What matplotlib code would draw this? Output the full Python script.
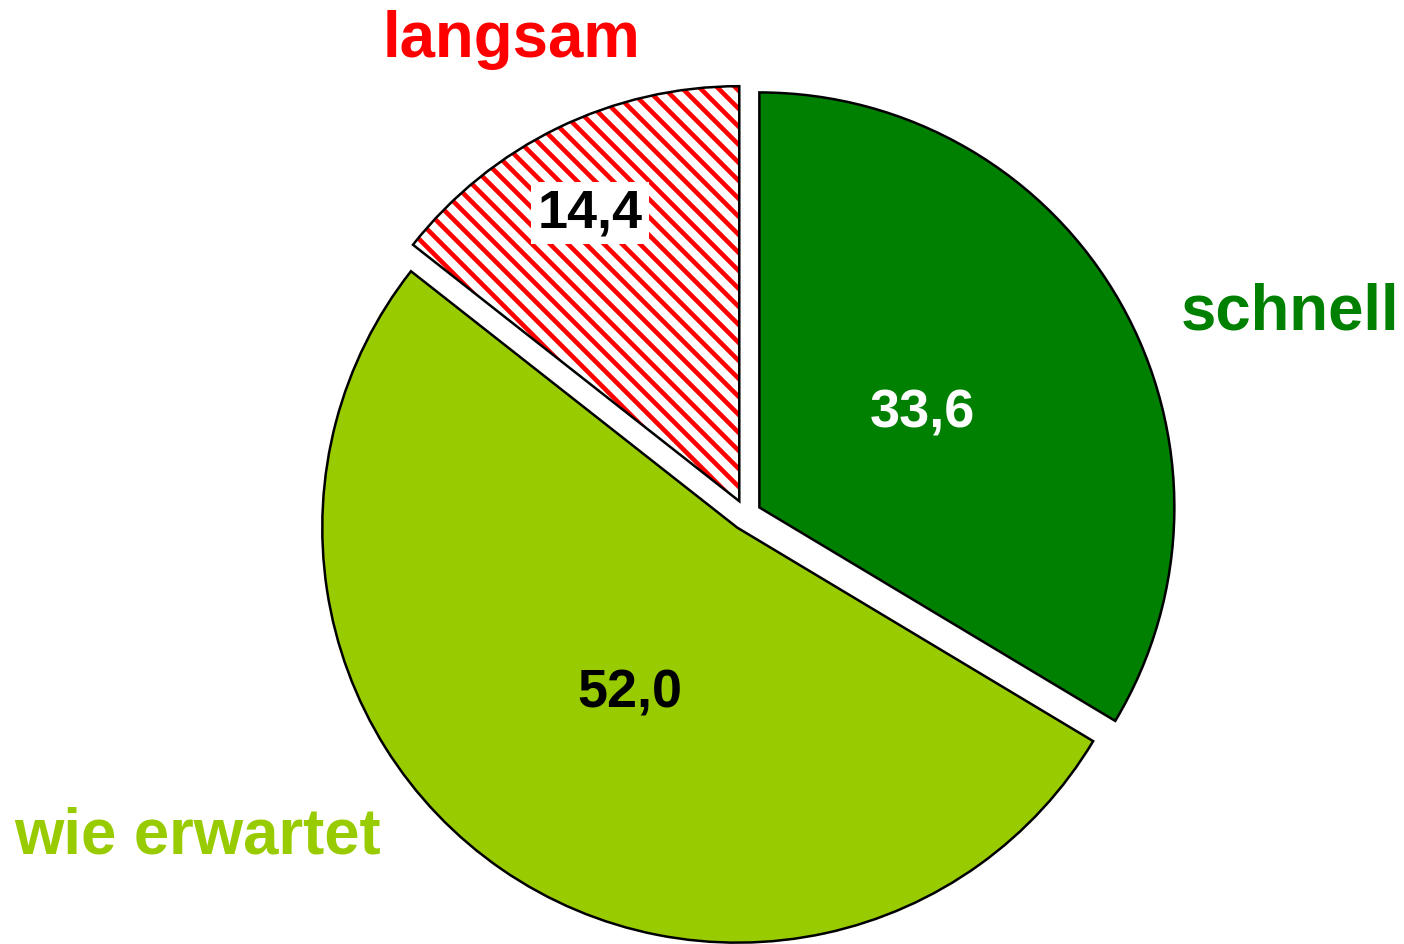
import matplotlib
matplotlib.use("Agg")
import matplotlib.pyplot as plt
from matplotlib.patches import Wedge

DPI = 108          # Schraffur-Abstand haengt an dpi (12 Linien pro Zoll -> 9 px)
PT = 72 / DPI      # Pixel -> Punkt

plt.rcParams['font.family'] = ['Liberation Sans', 'DejaVu Sans']
plt.rcParams['hatch.linewidth'] = 4.6 * PT

# --- Daten ---
kategorien = ["schnell", "wie erwartet", "langsam"]
werte = [33.6, 52.0, 14.4]
wert_texte = ["33,6", "52,0", "14,4"]
farben = ["#008000", "#99cc00", "#ffffff"]
text_farben = ["#008000", "#99cc00", "#ff0000"]
zahl_farben = ["#ffffff", "#000000", "#000000"]

# Positionen der Beschriftungen (Pixel im Bild, Mitte / Grundlinie)
kat_pos = [(1290, 329), (198, 853), (512, 57)]
zahl_pos = [(922, 427), (630, 707), (590, 227)]

W, H = 1404, 944
fig = plt.figure(figsize=(W / DPI, H / DPI), dpi=DPI)
ax = fig.add_axes([0, 0, 1, 1])

# Kreismittelpunkt bei (746, 515) px, Radius 415 px
r_px = 415
cx, cy = 746, 515
rand = 2.5 * PT
wedges, _ = ax.pie(werte, colors=farben, startangle=90, counterclock=False,
                   explode=[0.037] * 3, radius=1,
                   wedgeprops=dict(edgecolor="black", linewidth=rand))

# schraffiertes Segment: rote Schraffur, schwarzer Rand darueber
w = wedges[2]
w.set_edgecolor("#ff0000")
w.set_linewidth(0)
w.set_hatch("\\\\")
ax.add_patch(Wedge(w.center, w.r, w.theta1, w.theta2, fill=False,
                   edgecolor="black", linewidth=rand, zorder=w.get_zorder() + 0.1))

ax.set_xlim(-cx / r_px, (W - cx) / r_px)
ax.set_ylim(-(H - cy) / r_px, cy / r_px)
ax.axis("off")

for name, (px, py), c in zip(kategorien, kat_pos, text_farben):
    fig.text(px / W, 1 - py / H, name, color=c, fontsize=63.5 * PT,
             fontweight="bold", ha="center", va="baseline")

for i, (t, (px, py), c) in enumerate(zip(wert_texte, zahl_pos, zahl_farben)):
    box = None
    if i == 2:
        box = dict(boxstyle="square,pad=0.12", facecolor="white", edgecolor="none")
    fig.text(px / W, 1 - py / H, t, color=c, fontsize=54 * PT, fontweight="bold",
             ha="center", va="baseline", bbox=box)

fig.savefig("out.png", dpi=DPI)
